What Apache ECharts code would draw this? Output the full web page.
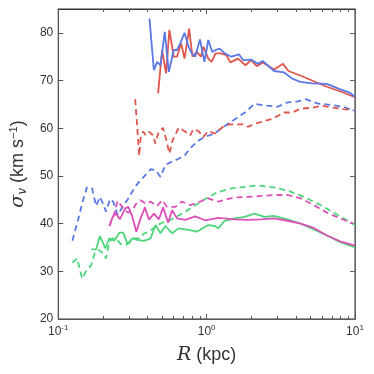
<!DOCTYPE html>
<html>
<head>
<meta charset="utf-8">
<script src="https://cdn.jsdelivr.net/npm/echarts@6/dist/echarts.min.js"></script>
<style>
  html, body { margin: 0; padding: 0; background: #fff; }
  #chart { width: 374px; height: 374px; }
</style>
</head>
<body>
<div id="chart"></div>
<script>
// radius in kpc, sigma in km/s
const blueSolidR = [0.412, 0.441, 0.464, 0.489, 0.522, 0.556, 0.600, 0.631, 0.664, 0.710, 0.755, 0.794, 0.836, 0.902, 0.966, 1.026, 1.091, 1.166, 1.227, 1.324, 1.468, 1.652, 1.757, 1.995, 2.21, 2.39, 2.85, 3.33, 3.78, 4.30, 5.14, 6.47, 7.74, 9.26, 10.0];
const blueSolidV = [83.0, 72.2, 73.9, 73.2, 80.2, 71.8, 76.4, 76.4, 77.8, 80.0, 77.1, 75.7, 75.0, 78.6, 73.9, 78.5, 76.0, 76.5, 76.7, 75.7, 75.0, 75.5, 74.3, 74.4, 73.5, 74.1, 72.0, 71.7, 70.4, 69.7, 69.4, 69.3, 68.3, 67.4, 66.6];

const redSolidR = [0.471, 0.501, 0.533, 0.561, 0.600, 0.631, 0.674, 0.710, 0.762, 0.803, 0.858, 0.916, 0.951, 1.026, 1.080, 1.148, 1.245, 1.359, 1.445, 1.626, 1.828, 1.995, 2.178, 2.39, 2.85, 3.27, 3.56, 4.41, 5.41, 6.47, 8.15, 10.0];
const redSolidV = [67.3, 76.4, 71.5, 80.6, 75.0, 75.0, 77.8, 74.6, 80.9, 75.0, 76.0, 75.0, 77.1, 74.6, 73.9, 75.7, 75.7, 75.3, 73.8, 74.6, 73.2, 74.3, 73.0, 73.8, 72.3, 73.5, 72.0, 70.9, 69.7, 68.7, 67.6, 66.5];

const redDashR = [0.330, 0.341, 0.351, 0.359, 0.373, 0.388, 0.409, 0.435, 0.452, 0.471, 0.507, 0.536, 0.561, 0.591, 0.648, 0.717, 0.774, 0.815, 0.881, 0.951, 1.026, 1.136, 1.291, 1.430, 1.545, 1.757, 1.897, 2.154, 2.785, 3.33, 3.78, 4.30, 5.14, 5.99, 7.16, 8.36, 9.74];
const redDashV = [66.1, 60.0, 54.2, 57.9, 59.3, 58.6, 59.3, 58.5, 56.8, 58.9, 60.1, 57.5, 54.7, 57.5, 60.1, 59.3, 58.5, 59.8, 59.4, 58.2, 59.4, 58.9, 60.3, 60.8, 60.8, 60.8, 60.3, 61.0, 62.0, 63.3, 63.3, 64.1, 64.3, 64.7, 64.3, 64.0, 63.8];

const blueDashR = [0.1245, 0.136, 0.147, 0.156, 0.169, 0.180, 0.191, 0.200, 0.210, 0.223, 0.235, 0.251, 0.264, 0.301, 0.325, 0.351, 0.388, 0.419, 0.452, 0.489, 0.527, 0.585, 0.648, 0.717, 0.774, 0.881, 0.975, 1.136, 1.259, 1.468, 1.626, 1.848, 2.099, 2.447, 3.006, 3.506, 4.083, 4.64, 5.56, 6.81, 8.36, 10.0];
const blueDashV = [36.4, 40.8, 44.9, 47.6, 47.4, 43.7, 45.6, 44.2, 42.5, 45.1, 44.6, 41.8, 42.9, 45.6, 47.4, 48.8, 50.2, 51.4, 51.2, 49.8, 52.3, 53.0, 53.6, 54.4, 55.8, 57.4, 58.2, 58.9, 60.0, 61.4, 62.3, 63.5, 65.1, 64.8, 64.5, 65.4, 65.6, 66.1, 65.2, 64.9, 64.5, 63.6];

const greenDashR = [0.1245, 0.134, 0.145, 0.156, 0.167, 0.176, 0.188, 0.200, 0.210, 0.221, 0.233, 0.245, 0.264, 0.285, 0.308, 0.325, 0.351, 0.378, 0.409, 0.452, 0.501, 0.556, 0.631, 0.717, 0.794, 0.975, 1.166, 1.468, 2.21, 2.85, 3.68, 4.52, 5.84, 7.16, 8.36, 10.0];
const greenDashV = [31.8, 32.7, 28.5, 30.3, 31.3, 33.8, 34.5, 33.8, 32.7, 36.2, 36.9, 36.9, 35.7, 35.5, 36.2, 36.9, 36.9, 37.9, 38.3, 39.4, 40.2, 40.6, 41.5, 42.5, 43.4, 45.1, 46.5, 47.4, 48.0, 47.6, 46.7, 45.6, 43.9, 42.3, 41.1, 39.7];

const magentaDashR = [0.221, 0.239, 0.251, 0.264, 0.278, 0.297, 0.316, 0.336, 0.359, 0.388, 0.419, 0.464, 0.501, 0.541, 0.615, 0.681, 0.774, 0.836, 1.026, 1.197, 1.545, 1.897, 2.326, 2.85, 3.506, 4.30, 5.27, 6.47, 7.94, 9.74];
const magentaDashV = [39.5, 42.1, 44.8, 43.9, 42.9, 42.3, 42.9, 44.2, 44.9, 44.2, 44.6, 43.7, 44.9, 43.5, 43.5, 44.6, 43.9, 44.2, 45.3, 44.6, 45.5, 45.6, 45.8, 46.0, 46.0, 45.3, 43.9, 42.3, 41.1, 40.0];

const magentaSolidR = [0.221, 0.233, 0.245, 0.260, 0.283, 0.297, 0.316, 0.336, 0.359, 0.384, 0.409, 0.441, 0.477, 0.509, 0.550, 0.585, 0.631, 0.717, 0.836, 0.975, 1.197, 1.545, 1.897, 2.326, 2.85, 3.506, 4.30, 5.27, 6.47, 7.94, 10.0];
const magentaSolidV = [39.5, 41.4, 42.1, 40.9, 43.2, 43.5, 41.4, 38.3, 41.1, 43.4, 40.8, 42.1, 40.9, 43.4, 40.2, 42.8, 41.1, 40.8, 41.5, 40.7, 41.2, 40.9, 40.8, 40.9, 41.1, 40.6, 40.0, 39.1, 37.5, 36.3, 35.4];

const greenSolidR = [0.167, 0.180, 0.191, 0.208, 0.221, 0.239, 0.258, 0.274, 0.293, 0.316, 0.341, 0.378, 0.419, 0.452, 0.489, 0.527, 0.585, 0.648, 0.755, 0.858, 1.026, 1.136, 1.197, 1.324, 1.545, 1.80, 2.099, 2.447, 2.85, 3.506, 4.30, 5.27, 6.47, 7.94, 10.0];
const greenSolidV = [34.6, 34.6, 37.4, 34.8, 36.9, 36.4, 38.1, 38.1, 35.7, 36.9, 36.6, 36.4, 36.9, 39.7, 38.0, 39.5, 38.0, 39.0, 38.7, 38.3, 39.7, 39.5, 39.0, 40.6, 41.1, 41.4, 42.1, 41.4, 41.6, 40.9, 40.0, 38.8, 37.5, 36.1, 35.0];

const xMajorTicks = [0.1, 1, 10];
const xMinorTicks = [0.2, 0.3, 0.4, 0.5, 0.6, 0.7, 0.8, 0.9, 2, 3, 4, 5, 6, 7, 8, 9];
const yTicks = [20, 30, 40, 50, 60, 70, 80];

const BLUE = '#5a78e6';
const RED = '#e0564c';
const GREEN = '#4fd67c';
const MAGENTA = '#dd50ba';

const pairs = (r, v) => r.map((x, i) => [x, v[i]]);

function line(name, r, v, color, dashed) {
  return {
    name: name,
    type: 'line',
    data: pairs(r, v),
    showSymbol: false,
    symbol: 'none',
    animation: false,
    lineStyle: { color: color, width: 1.8, type: dashed ? [6, 4] : 'solid' },
    z: dashed ? 2 : 3
  };
}

const chart = echarts.init(document.getElementById('chart'));

const logX = {
  type: 'log',
  logBase: 10,
  min: 0.1,
  max: 10,
  splitLine: { show: false },
  minorSplitLine: { show: false }
};

// minor ticks sit on a plain axis running in decades (-1..1)
const decadeX = {
  type: 'value',
  min: -1,
  max: 1,
  splitLine: { show: false },
  axisLine: { show: false, onZero: false },
  axisLabel: { show: false },
  axisTick: { show: true, inside: true, length: 3, lineStyle: { color: '#555' }, customValues: xMinorTicks.map(Math.log10) }
};

chart.setOption({
  backgroundColor: '#fff',
  animation: false,
  grid: { left: 55, right: 19, top: 9, bottom: 55, show: true, borderColor: '#333', borderWidth: 1 },
  xAxis: [
    Object.assign({}, logX, {
      position: 'bottom',
      name: '{i|R} (kpc)',
      nameLocation: 'middle',
      nameGap: 27,
      nameTextStyle: {
        fontSize: 18, color: '#333', fontFamily: 'Liberation Sans',
        rich: { i: { fontSize: 19, fontStyle: 'italic', fontFamily: 'DejaVu Serif', color: '#333' } }
      },
      axisLine: { show: true, onZero: false, lineStyle: { color: '#555', width: 1 } },
      axisTick: { show: true, inside: true, length: 5, lineStyle: { color: '#555' }, customValues: xMajorTicks },
      axisLabel: {
        customValues: xMajorTicks,
        margin: 5,
        color: '#333',
        fontFamily: 'Liberation Sans',
        fontSize: 12,
        formatter: function (val) {
          const e = Math.round(Math.log10(val));
          return '10{s|' + e + '}';
        },
        rich: { s: { fontSize: 8, verticalAlign: 'top', padding: [0, 0, 8, 0], color: '#333' } }
      }
    }),
    Object.assign({}, decadeX, { position: 'bottom' }),
    Object.assign({}, logX, {
      position: 'top',
      axisLine: { show: true, onZero: false, lineStyle: { color: '#333' } },
      axisTick: { show: true, inside: true, length: 5, lineStyle: { color: '#555' }, customValues: xMajorTicks },
      axisLabel: { show: false }
    }),
    Object.assign({}, decadeX, { position: 'top' })
  ],
  yAxis: [
    {
      type: 'value',
      min: 20,
      max: 85,
      position: 'left',
      name: '{s|σ}{sub|v} (km s{sup|−1})',
      nameLocation: 'middle',
      nameGap: 28,
      nameTextStyle: {
        fontSize: 18, color: '#333', fontFamily: 'Liberation Sans',
        rich: {
          s: { fontSize: 19, fontStyle: 'italic', fontFamily: 'DejaVu Serif', color: '#333' },
          sub: { fontSize: 12, fontStyle: 'italic', fontFamily: 'DejaVu Serif', verticalAlign: 'bottom', padding: [8, 0, 0, 0], color: '#333' },
          sup: { fontSize: 11, verticalAlign: 'top', padding: [0, 0, 10, 0], color: '#333', fontFamily: 'Liberation Sans' }
        }
      },
      splitLine: { show: false },
      axisLine: { show: true, onZero: false, lineStyle: { color: '#555' } },
      axisTick: { show: true, inside: true, length: 5, lineStyle: { color: '#555' }, customValues: yTicks },
      axisLabel: { customValues: yTicks, color: '#333', fontSize: 12, margin: 5, fontFamily: 'Liberation Sans' }
    },
    {
      type: 'value',
      min: 20,
      max: 85,
      position: 'right',
      splitLine: { show: false },
      axisLine: { show: true, onZero: false, lineStyle: { color: '#666' } },
      axisTick: { show: true, inside: true, length: 5, lineStyle: { color: '#666' }, customValues: yTicks },
      axisLabel: { show: false }
    }
  ],
  series: [
    line('blue dashed', blueDashR, blueDashV, BLUE, true),
    line('red dashed', redDashR, redDashV, RED, true),
    line('green dashed', greenDashR, greenDashV, GREEN, true),
    line('magenta dashed', magentaDashR, magentaDashV, MAGENTA, true),
    line('green solid', greenSolidR, greenSolidV, GREEN, false),
    line('magenta solid', magentaSolidR, magentaSolidV, MAGENTA, false),
    line('red solid', redSolidR, redSolidV, RED, false),
    line('blue solid', blueSolidR, blueSolidV, BLUE, false)
  ]
});
</script>
</body>
</html>
